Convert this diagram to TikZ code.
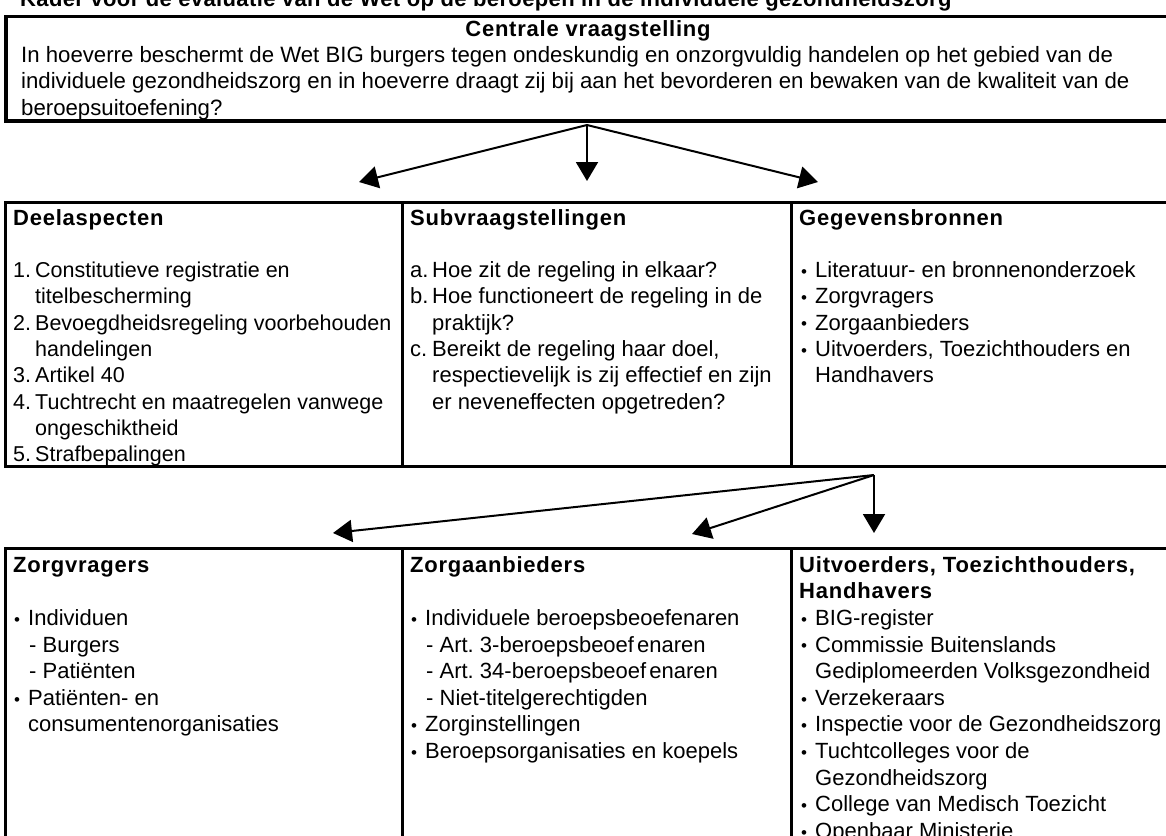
\documentclass[tikz,border=0pt]{standalone}
\usepackage{fontspec}
\setmainfont{Liberation Sans}
\usetikzlibrary{arrows.meta}
\newcommand\myfs{\fontsize{22}{26.3}\selectfont}
\newcommand\lns[1]{\begin{tabular}[t]{@{}l@{}}#1\end{tabular}}
\newcommand\lbl[2]{\makebox[#1][l]{#2}}
\newcommand\bul{\lbl{14pt}{\raisebox{0.3pt}{\fontsize{17}{17}\selectfont •}}}
\newcommand\ind[1]{\hspace*{#1}}
\begin{document}
\begin{tikzpicture}[x=1pt,y=-1pt,
  box/.style={draw, line width=3pt, inner sep=0pt, anchor=north west},
  txt/.style={anchor=base west, inner sep=0pt, font=\myfs},
  hd/.style={anchor=base west, inner sep=0pt, font=\myfs\bfseries\addfontfeature{LetterSpace=3.5}},
  arr/.style={line width=2pt, -{Triangle[length=19pt,width=22pt]}}]
\fill[white] (0,0) rectangle (1166,835);
\useasboundingbox (0,0) rectangle (1166,835);
\begin{scope}
\clip (0,0) rectangle (1166,835);
% boxes
\node[box, line width=3.5pt, minimum width=1176pt, minimum height=104.5pt] (top) at (4,14.5) {};
\node[box, minimum width=397pt, minimum height=264pt] (b1) at (4,201) {};
\node[box, minimum width=389pt, minimum height=264pt] (b2) at (401,201) {};
\node[box, minimum width=390pt, minimum height=264pt] (b3) at (790,201) {};
\node[box, minimum width=397pt, minimum height=330pt] (c1) at (4,547) {};
\node[box, minimum width=389pt, minimum height=330pt] (c2) at (401,547) {};
\node[box, minimum width=390pt, minimum height=330pt] (c3) at (790,547) {};

% title and central question
\node[anchor=base west, inner sep=0pt, font=\fontsize{22}{26.3}\selectfont\bfseries\addfontfeature{LetterSpace=1.7}] (title) at (20,6.5) {Kader voor de evaluatie van de Wet op de beroepen in de individuele gezondheidszorg};
\node[anchor=base, inner sep=0pt, font=\myfs\bfseries\addfontfeature{LetterSpace=3.5}] (cv) at (588,36.5) {Centrale vraagstelling};
\node[txt, font=\fontsize{22.2}{26.3}\selectfont] (q) at (21,62.5) {\lns{In hoeverre beschermt de Wet BIG burgers tegen ondeskundig en onzorgvuldig handelen op het gebied van de\\
individuele gezondheidszorg en in hoeverre draagt zij bij aan het bevorderen en bewaken van de kwaliteit van de\\
beroepsuitoefening?}};

% row 2
\node[hd] (h1) at (13,225) {Deelaspecten};
\node[txt, font=\fontsize{21.5}{26.3}\selectfont] (l1) at (13,277.6) {\lns{\lbl{22pt}{1.}Constitutieve registratie en\\
\ind{22pt}titelbescherming\\
\lbl{22pt}{2.}Bevoegdheidsregeling voorbehouden\\
\ind{22pt}handelingen\\
\lbl{22pt}{3.}Artikel 40\\
\lbl{22pt}{4.}Tuchtrecht en maatregelen vanwege\\
\ind{22pt}ongeschiktheid\\
\lbl{22pt}{5.}Strafbepalingen}};

\node[hd] (h2) at (410,225) {Subvraagstellingen};
\node[txt] (l2) at (410,277.6) {\lns{\lbl{22pt}{a.}Hoe zit de regeling in elkaar?\\
\lbl{22pt}{b.}Hoe functioneert de regeling in de\\
\ind{22pt}praktijk?\\
\lbl{22pt}{c.}Bereikt de regeling haar doel,\\
\ind{22pt}respectievelijk is zij effectief en zijn\\
\ind{22pt}er neveneffecten opgetreden?}};

\node[hd] (h3) at (799,225) {Gegevensbronnen};
\node[txt] (l3) at (801,277.6) {\lns{\bul Literatuur- en bronnenonderzoek\\
\bul Zorgvragers\\
\bul Zorgaanbieders\\
\bul Uitvoerders, Toezichthouders en\\
\ind{14pt}Handhavers}};

% row 3
\node[hd] (h4) at (13,572) {Zorgvragers};
\node[txt, font=\fontsize{22}{26.6}\selectfont] (l4) at (14,625.5) {\lns{\bul Individuen\\
\ind{15pt}- Burgers\\
\ind{15pt}- Patiënten\\
\bul Patiënten- en\\
\ind{14pt}consumentenorganisaties}};

\node[hd] (h5) at (410,572) {Zorgaanbieders};
\node[txt, font=\fontsize{22}{26.6}\selectfont] (l5) at (411,625.5) {\lns{\bul Individuele beroepsbeoefenaren\\
\ind{15pt}- Art.\ 3-beroepsbeoef\hspace{3pt}enaren\\
\ind{15pt}- Art.\ 34-beroepsbeoef\hspace{3pt}enaren\\
\ind{15pt}- Niet-titelgerechtigden\\
\bul Zorginstellingen\\
\bul Beroepsorganisaties en koepels}};

\node[hd, font=\fontsize{22}{26.6}\selectfont\bfseries\addfontfeature{LetterSpace=3.5}] (h6) at (799,572) {\lns{Uitvoerders, Toezichthouders,\\ Handhavers}};
\node[txt, font=\fontsize{22}{26.6}\selectfont] (l6) at (801,625.5) {\lns{\bul BIG-register\\
\bul Commissie Buitenslands\\
\ind{14pt}Gediplomeerden Volksgezondheid\\
\bul Verzekeraars\\
\bul Inspectie voor de Gezondheidszorg\\
\bul Tuchtcolleges voor de\\
\ind{14pt}Gezondheidszorg\\
\bul College van Medisch Toezicht\\
\bul Openbaar Ministerie}};

% arrows
\coordinate (o1) at (587,125);
\coordinate (t1) at (359,182);
\coordinate (t2) at (587,181);
\coordinate (t3) at (818,182);
\coordinate (o2) at (874,475);
\coordinate (t4) at (333,533);
\coordinate (t5) at (692,534);
\coordinate (t6) at (874,533);
\draw[arr] (o1) -- (t1);
\draw[arr] (o1) -- (t2);
\draw[arr] (o1) -- (t3);
\draw[arr] (o2) -- (t4);
\draw[arr] (o2) -- (t5);
\draw[arr] (o2) -- (t6);
\end{scope}
\end{tikzpicture}
\end{document}
